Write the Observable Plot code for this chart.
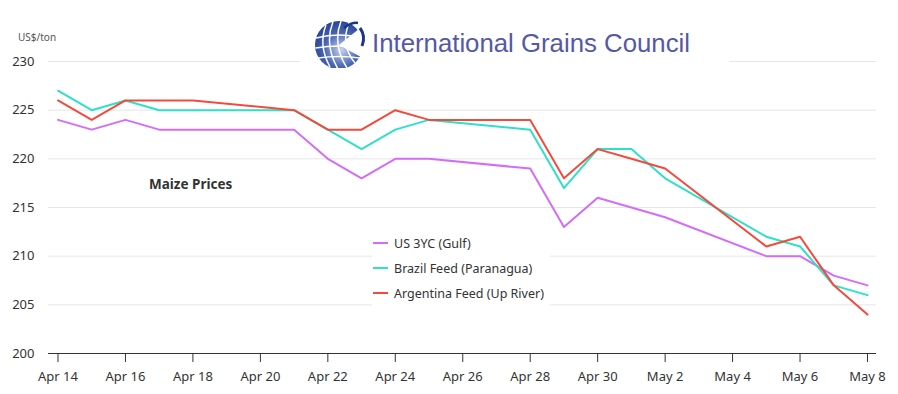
<!DOCTYPE html>
<html>
<head>
<meta charset="utf-8">
<script src="https://cdn.jsdelivr.net/npm/d3@7"></script>
<script src="https://cdn.jsdelivr.net/npm/@observablehq/plot@0.6"></script>
<style>
  body { margin: 0; background: #fff; }
  #wrap { position: relative; width: 898px; height: 394px; font-family: "Noto Sans", sans-serif; }
  #wrap > svg.plot { position: absolute; left: 0; top: 0; }
  .ov { position: absolute; }
</style>
</head>
<body>
<div id="wrap"></div>
<script>
// ---- data ----
const dates = ["2025-04-14","2025-04-15","2025-04-16","2025-04-17","2025-04-18",
  "2025-04-21","2025-04-22","2025-04-23","2025-04-24","2025-04-25",
  "2025-04-28","2025-04-29","2025-04-30","2025-05-01","2025-05-02",
  "2025-05-05","2025-05-06","2025-05-07","2025-05-08"];
const seriesNames = ["US 3YC (Gulf)", "Brazil Feed (Paranagua)", "Argentina Feed (Up River)"];
const seriesColors = ["#d46cf8", "#2fe0c8", "#f44a3c"];
const usGulf    = [224,223,224,223,223, 223,220,218,220,220, 219,213,216,215,214, 210,210,208,207];
const brazil    = [227,225,226,225,225, 225,223,221,223,224, 223,217,221,221,218, 212,211,207,206];
const argentina = [226,224,226,226,226, 225,223,223,225,224, 224,218,221,220,219, 211,212,207,204];
const xTicks = ["2025-04-14","2025-04-16","2025-04-18","2025-04-20","2025-04-22","2025-04-24",
  "2025-04-26","2025-04-28","2025-04-30","2025-05-02","2025-05-04","2025-05-06","2025-05-08"];
const yTicks = [200,205,210,215,220,225,230];
const gridTicks = [205,210,215,220,225,230];

const values = [usGulf, brazil, argentina];
const rows = [];
seriesNames.forEach((s, i) => dates.forEach((d, j) => rows.push({date: new Date(d), value: values[i][j], series: s})));

const fmt = d3.utcFormat("%b %-d");

const chart = Plot.plot({
  width: 898,
  height: 394,
  marginLeft: 48,
  marginRight: 22,
  marginTop: 61,
  marginBottom: 41,
  style: {fontFamily: "Noto Sans, sans-serif", fontSize: "13px", color: "#333", background: "transparent"},
  x: {type: "utc", domain: [new Date(dates[0]), new Date(dates[dates.length - 1])], insetLeft: 9.5, insetRight: 9},
  y: {domain: [200, 230]},
  color: {domain: seriesNames, range: seriesColors},
  marks: [
    Plot.ruleY(gridTicks, {stroke: "#e6e6e6", strokeWidth: 1}),
    Plot.ruleY([200], {stroke: "#333", strokeWidth: 1}),
    Plot.axisY(yTicks, {tickSize: 0, tickPadding: 14, label: null, fill: "#333"}),
    Plot.axisX(xTicks.map(d => new Date(d)), {tickSize: 9, tickPadding: 9, tickFormat: fmt, label: null, stroke: "#333", fill: "#333"}),
    Plot.line(rows, {x: "date", y: "value", z: "series", stroke: "series", strokeWidth: 2})
  ]
});
chart.classList.add("plot");
const wrap = document.getElementById("wrap");
wrap.appendChild(chart);

// logo box (white background covering the top gridline)
const logo = document.createElement("div");
logo.className = "ov";
logo.style.cssText = "left:300px;top:0;width:429px;height:68px;background:#fff;";
logo.innerHTML = `
<svg width="429" height="68" viewBox="0 0 429 68" xmlns="http://www.w3.org/2000/svg">
  <defs>
    <radialGradient id="gg" cx="0.55" cy="0.6" r="0.7">
      <stop offset="0" stop-color="#c9d3ee"/>
      <stop offset="0.5" stop-color="#4a66b5"/>
      <stop offset="1" stop-color="#1b3689"/>
    </radialGradient>
  </defs>
  <circle cx="39" cy="45" r="24" fill="url(#gg)"/>
  <g fill="none" stroke="#fff" stroke-width="1.5">
    <path d="M26 25 Q18 45 30 67"/>
    <path d="M33 21.5 Q24 45 38 69"/>
    <path d="M41 21 Q32 45 47 68"/>
    <path d="M49 23 Q40 45 55 63"/>
    <path d="M16 38 Q39 32 63 38"/>
    <path d="M15.5 48 Q39 44 63 48"/>
    <path d="M18 58 Q39 55 60 58"/>
  </g>
  <path d="M39 45 L70 20 L70 62 Z" fill="#fff"/>
  <path d="M60 28 Q66 36 62 46" stroke="#1b3689" stroke-width="3" fill="none"/>
  <path d="M44 28 Q52 22 58 23" stroke="#1b3689" stroke-width="2.5" fill="none"/>
  <text x="72" y="52" font-family="Liberation Sans, Arial, sans-serif" font-size="26" fill="#5558a8" textLength="318" lengthAdjust="spacingAndGlyphs">International Grains Council</text>
</svg>`;
wrap.appendChild(logo);

// unit label
const unit = document.createElement("div");
unit.className = "ov";
unit.style.cssText = "left:18px;top:30px;font-size:10px;color:#555;";
unit.textContent = "US$/ton";
wrap.appendChild(unit);

// chart title
const ttl = document.createElement("div");
ttl.className = "ov";
ttl.style.cssText = "left:149px;top:175px;font-size:13.5px;font-weight:bold;color:#333;";
ttl.textContent = "Maize Prices";
wrap.appendChild(ttl);

// legend
const leg = document.createElement("div");
leg.className = "ov";
leg.style.cssText = "left:372px;top:231px;width:178px;height:76px;background:#fff;";
seriesNames.forEach((s, i) => {
  const row = document.createElement("div");
  row.style.cssText = `position:absolute;left:0;top:${i * 25}px;height:24px;display:flex;align-items:center;white-space:nowrap;`;
  row.innerHTML = `<span style="display:inline-block;width:15px;height:2px;background:${seriesColors[i]};margin-left:1px;margin-right:6px;"></span><span style="font-size:12.5px;color:#333;">${s}</span>`;
  leg.appendChild(row);
});
wrap.appendChild(leg);
</script>
</body>
</html>
